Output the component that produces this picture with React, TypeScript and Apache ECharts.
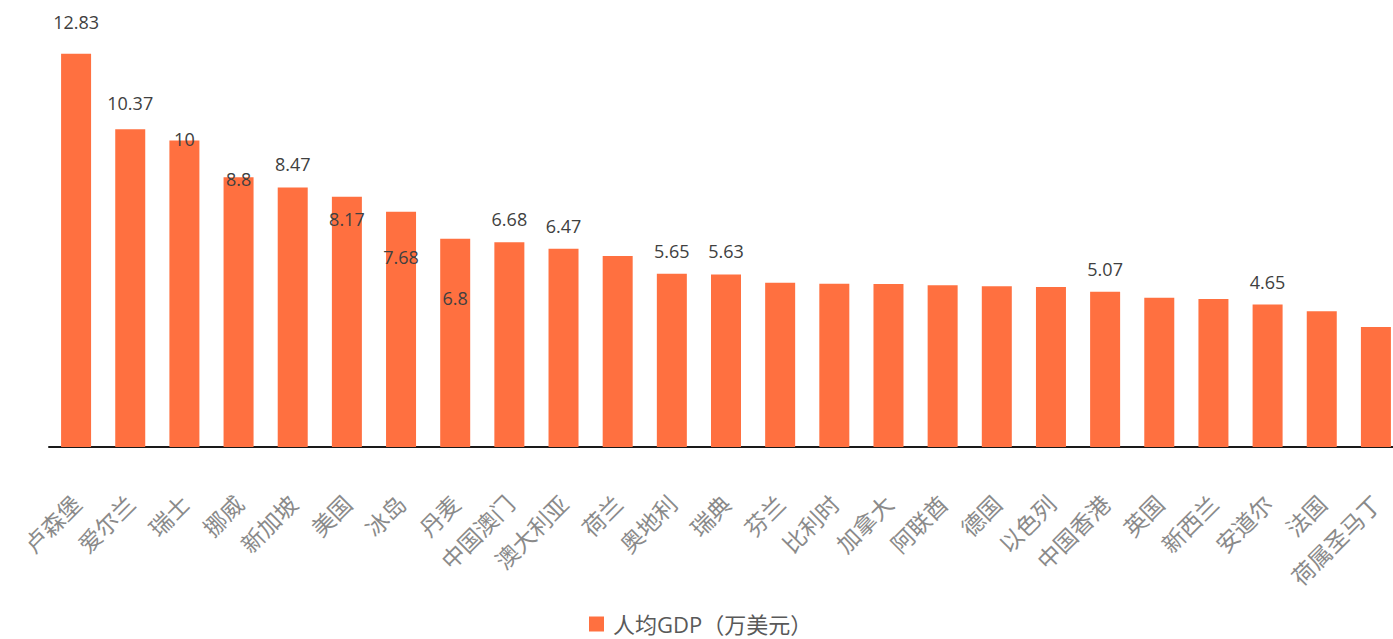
import React, { useEffect, useRef } from "react";
import * as echarts from "echarts";

const categories = [
  "卢森堡", "爱尔兰", "瑞士", "挪威", "新加坡", "美国", "冰岛", "丹麦", "中国澳门",
  "澳大利亚", "荷兰", "奥地利", "瑞典", "芬兰", "比利时", "加拿大", "阿联酋", "德国",
  "以色列", "中国香港", "英国", "新西兰", "安道尔", "法国", "荷属圣马丁",
];

const gdpValues = [
  12.83, 10.37, 10, 8.8, 8.47, 8.17, 7.68, 6.8, 6.68,
  6.47, 6.23, 5.65, 5.63, 5.36, 5.33, 5.32, 5.28, 5.25,
  5.22, 5.07, 4.87, 4.83, 4.65, 4.43, 3.92,
];

// which bars carry a value label
const labelShown = [
  true, true, true, true, true, true, true, true, true,
  true, false, true, true, false, false, false, false, false,
  false, true, false, false, true, false, false,
];

// vertical nudge of each value label (as placed in the original)
const labelShift = [
  -9, -3, 21, 25, 0, 45, 68, 82, 0,
  0, 0, 0, 0, 0, 0, 0, 0, 0,
  0, 0, 0, 0, 0, 0, 0,
];

const seriesName = "人均GDP（万美元）";

export default function App() {
  const ref = useRef<HTMLDivElement>(null);

  useEffect(() => {
    if (!ref.current) return;
    const chart = echarts.init(ref.current, undefined, { renderer: "svg" });
    const barColor = "#FF7040";
    chart.setOption({
      animation: false,
      backgroundColor: "#ffffff",
      grid: { left: 49, right: 0, top: 18, bottom: 192, containLabel: false },
      legend: {
        data: [seriesName],
        left: 584,
        top: 607,
        icon: "rect",
        itemWidth: 15,
        itemHeight: 15,
        textStyle: {
          fontSize: 22,
          lineHeight: 24,
          color: "#595959",
          fontFamily: "'Open Sans', 'Noto Sans CJK SC', sans-serif",
          padding: [0, 0, 0, 4],
        },
      },
      xAxis: {
        type: "category",
        data: categories,
        axisTick: { show: false },
        axisLine: { show: true, lineStyle: { color: "#1a1a1a", width: 2 } },
        axisLabel: {
          interval: 0,
          rotate: 45,
          margin: 52,
          fontSize: 23,
          color: "#8a8a8a",
          fontFamily: "'Noto Sans CJK SC', sans-serif",
        },
      },
      yAxis: {
        type: "value",
        min: 0,
        max: 14,
        show: false,
        splitLine: { show: false },
      },
      series: [
        {
          name: seriesName,
          type: "bar",
          barWidth: 30,
          itemStyle: { color: barColor },
          label: {
            show: true,
            position: "top",
            distance: 14,
            fontSize: 18,
            color: "#404040",
            fontFamily: "'Open Sans', sans-serif",
          },
          data: gdpValues.map((v, i) => ({
            value: v,
            label: { show: labelShown[i], offset: [0, labelShift[i]] },
          })),
        },
      ],
    });
    return () => chart.dispose();
  }, []);

  return (
    <div
      ref={ref}
      style={{ position: "fixed", left: 0, top: 0, width: 1403, height: 639 }}
    />
  );
}
